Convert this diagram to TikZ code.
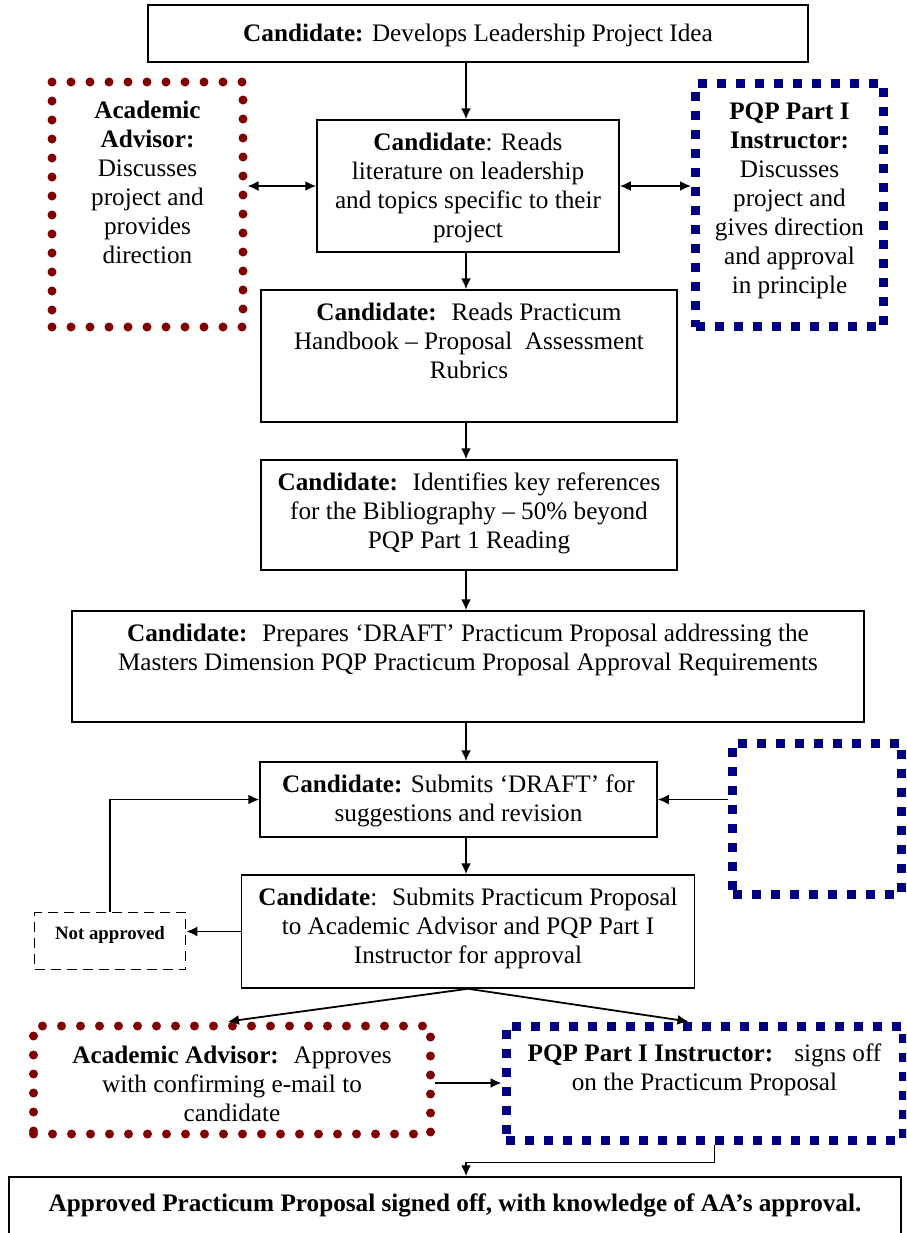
\documentclass[tikz,border=0pt]{standalone}
\usepackage{fontspec}
\setmainfont{Liberation Serif}
\usetikzlibrary{arrows.meta}
\definecolor{advred}{RGB}{128,0,0}
\definecolor{instblue}{RGB}{0,0,128}
% box text: [top pad]{width}{height}{lines}
\newcommand{\boxtext}[4][5pt]{\parbox[c][#3][t]{#2}{\centering\vspace*{#1}\strut #4}}
\tikzset{
  procbox/.style={draw, line width=0.75pt, inner sep=0pt},
  advbox/.style={draw=advred, line width=4.5pt, line cap=round, dash pattern=on 0pt off 9.5pt, inner sep=0pt},
  instbox/.style={draw=instblue, line width=4.5pt, dash pattern=on 4.5pt off 5pt, inner sep=0pt},
  notebox/.style={draw, line width=0.9pt, dash pattern=on 5pt off 3pt, inner sep=0pt, font=\fontsize{9.4}{11}\selectfont},
  flow/.style={-{Latex[length=5.5pt,width=5pt]}, line width=0.9pt},
  twoway/.style={{Latex[length=5.5pt,width=5pt]}-{Latex[length=5.5pt,width=5pt]}, line width=0.9pt}
}
\begin{document}
\begin{tikzpicture}[x=0.5pt, y=-0.5pt, font=\fontsize{12.6}{14.5}\selectfont]
\path[use as bounding box, clip] (0,0) rectangle (906,1233);
\coordinate (spine) at (466,0);

% main column
\node[procbox] (idea) at (478,33.5) {\boxtext[8pt]{330pt}{28.5pt}{\textbf{Candidate:} Develops Leadership Project Idea}};
\node[procbox] (read) at (468,186) {\boxtext{151pt}{66pt}{\textbf{Candidate}: Reads\\ literature on leadership\\ and topics specific to their\\ project}};
\node[procbox] (handbook) at (469,356) {\boxtext{208pt}{66pt}{\textbf{Candidate:}~ Reads Practicum\\ Handbook – Proposal~ Assessment\\ Rubrics}};
\node[procbox] (refs) at (469,515) {\boxtext{208pt}{55pt}{\textbf{Candidate:}~ Identifies key references\\ for the Bibliography – 50\% beyond\\ PQP Part 1 Reading}};
\node[procbox] (draft) at (468,666.5) {\boxtext{396pt}{55.5pt}{\textbf{Candidate:}~ Prepares ‘DRAFT’ Practicum Proposal addressing the\\ Masters Dimension PQP Practicum Proposal Approval Requirements}};
\node[procbox] (submit) at (458.5,799.5) {\boxtext{198.5pt}{37.5pt}{\textbf{Candidate:} Submits ‘DRAFT’ for\\ suggestions and revision}};
\node[procbox] (approval) at (468,931.5) {\boxtext{226.5pt}{56.5pt}{\textbf{Candidate}:~ Submits Practicum Proposal\\ to Academic Advisor and PQP Part I\\ Instructor for approval}};
\node[procbox] (final) at (455,1217) {\boxtext[7pt]{446pt}{40pt}{\textbf{Approved Practicum Proposal signed off, with knowledge of AA’s approval.}}};

% side boxes
\node[advbox] (adv1) at (147.5,204.5) {\boxtext[8pt]{95.5pt}{122.5pt}{\textbf{Academic}\\ \textbf{Advisor:}\\ Discusses\\ project and\\ provides\\ direction}};
\node[instbox] (ins1) at (789.5,205) {\boxtext[8pt]{94pt}{121.5pt}{\textbf{PQP Part I}\\ \textbf{Instructor:}\\ Discusses\\ project and\\ gives direction\\ and approval\\ in principle}};
\node[instbox, minimum width=84.5pt, minimum height=75.5pt] (blank) at (817,818.5) {};
\node[notebox] (notappr) at (110,941) {\boxtext[6pt]{75.5pt}{28.5pt}{\textbf{Not approved}}};
\node[advbox] (aa) at (232,1080) {\boxtext[8.5pt]{198.5pt}{54pt}{\textbf{Academic Advisor:}~ Approves\\ with confirming e-mail to\\ candidate}};
\node[instbox] (pqp) at (704.5,1083) {\boxtext[7.5pt]{198.5pt}{57pt}{\textbf{PQP Part I Instructor:}~~ signs off\\ on the Practicum Proposal}};

% connectors
\draw[flow] (idea.south -| spine) -- (read.north -| spine);
\draw[twoway] (read.west) -- (read.west -| adv1.east);
\draw[twoway] (read.east) -- (read.east -| ins1.west);
\draw[flow] (read.south -| spine) -- (handbook.north -| spine);
\draw[flow] (handbook.south -| spine) -- (refs.north -| spine);
\draw[flow] (refs.south -| spine) -- (draft.north -| spine);
\draw[flow] (draft.south -| spine) -- (submit.north -| spine);
\draw[flow] (submit.east -| blank.west) -- (submit.east);
\draw[flow] (submit.south -| spine) -- (approval.north -| spine);
\draw[flow] (approval.west) -- (approval.west -| notappr.east);
\draw[flow] (notappr.north) |- (submit.west);
\draw[flow] (approval.south) -- ([xshift=-2pt]aa.north);
\draw[flow] (approval.south) -- ([xshift=-8pt]pqp.north);
\draw[flow] (aa.east |- pqp.west) -- (pqp.west);
\draw[flow] ([xshift=5pt]pqp.south) -- ++(0,18) -| (final.north -| spine);
\end{tikzpicture}
\end{document}
